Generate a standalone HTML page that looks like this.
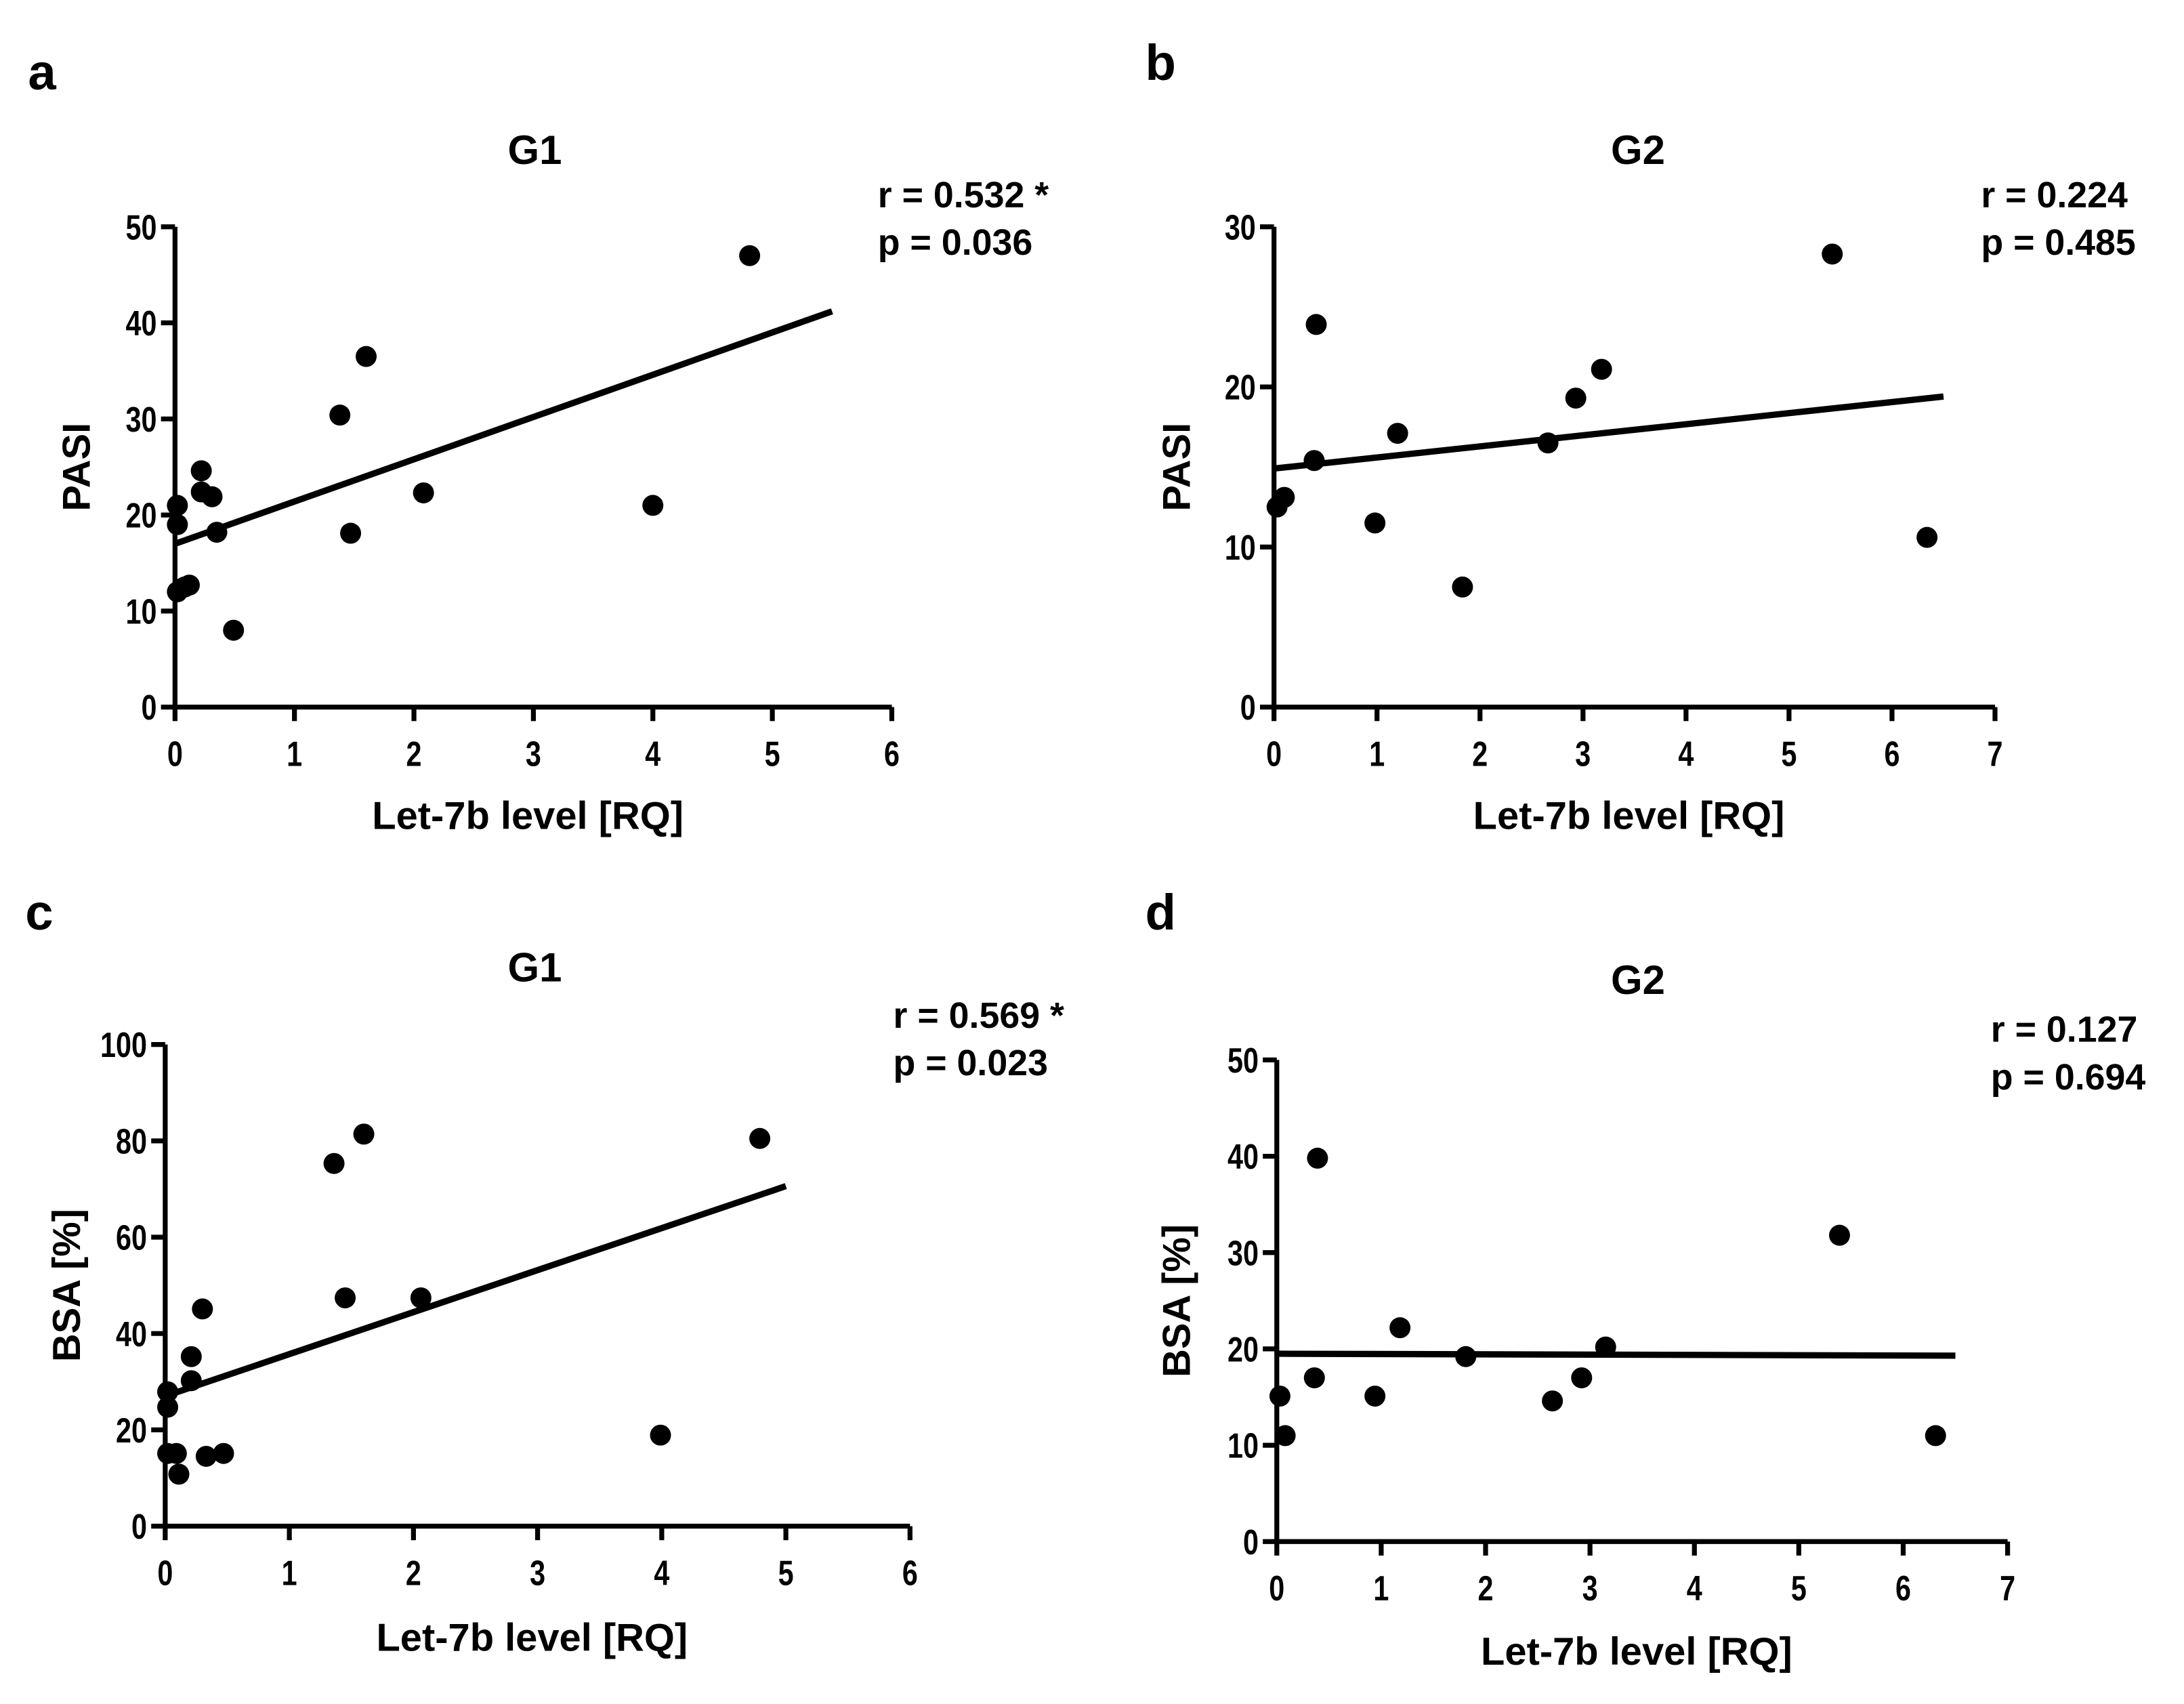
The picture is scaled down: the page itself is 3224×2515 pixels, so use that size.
<!DOCTYPE html>
<html><head><meta charset="utf-8"><style>
html,body{margin:0;padding:0;background:#fff}
svg{display:block}
text{font-family:"Liberation Sans",Arial,sans-serif;font-weight:bold;fill:#000}
.tick{font-size:25px}
</style></head><body>
<svg id="fig" width="3224" height="2515" viewBox="0 0 1560 1217" preserveAspectRatio="none" xmlns="http://www.w3.org/2000/svg"></svg>
<script>
// Panel a: G1 PASI
const aX = [0.02,0.02,0.02,0.08,0.12,0.22,0.22,0.31,0.35,0.49,1.38,1.60,1.47,2.08,4.00,4.81];
const aY = [21.0,19.0,12.0,12.5,12.7,24.6,22.4,21.9,18.2,8.0,30.4,36.5,18.1,22.3,21.0,47.0];
const aLine = [[0,17.0],[5.5,41.2]];
// Panel b: G2 PASI
const bX = [0.03,0.10,0.39,0.41,0.98,1.20,1.83,2.66,2.93,3.18,5.42,6.34];
const bY = [12.5,13.1,15.4,23.9,11.5,17.1,7.5,16.5,19.3,21.1,28.3,10.6];
const bLine = [[0,14.9],[6.5,19.4]];
// Panel c: G1 BSA
const cX = [0.02,0.02,0.02,0.09,0.11,0.21,0.21,0.30,0.33,0.47,1.36,1.60,1.45,2.06,3.99,4.79];
const cY = [27.9,24.7,15.1,15.1,10.8,35.2,30.2,45.1,14.5,15.1,75.3,81.4,47.4,47.4,18.9,80.5];
const cLine = [[0,27.0],[5.0,70.6]];
// Panel d: G2 BSA
const dX = [0.03,0.08,0.36,0.39,0.94,1.18,1.81,2.64,2.92,3.15,5.39,6.31];
const dY = [15.1,11.0,17.0,39.8,15.1,22.2,19.2,14.6,17.0,20.2,31.8,11.0];
const dLine = [[0,19.5],[6.5,19.3]];
const aXTicks=[0,1,2,3,4,5,6], aYTicks=[0,10,20,30,40,50];
const bXTicks=[0,1,2,3,4,5,6,7], bYTicks=[0,10,20,30];
const cXTicks=[0,1,2,3,4,5,6], cYTicks=[0,20,40,60,80,100];
const dXTicks=[0,1,2,3,4,5,6,7], dYTicks=[0,10,20,30,40,50];

const NS="http://www.w3.org/2000/svg";
const svg=document.getElementById('fig');
function mk(tag,attrs,parent,txt){const e=document.createElementNS(NS,tag);for(const k in attrs)e.setAttribute(k,attrs[k]);if(txt!==undefined)e.textContent=txt;(parent||svg).appendChild(e);return e;}

const panels=[
 {id:'a',xs:aX,ys:aY,line:aLine,xt:aXTicks,yt:aYTicks,x0:125,x1:637,y0:505,y1:162,title:'G1',tx:382,ty:117,letter:'a',lx:20,ly:64,ylab:'PASI',ylx:64,r:'r = 0.532 *',p:'p = 0.036',sx:627,sy:148,xlY:592},
 {id:'b',xs:bX,ys:bY,line:bLine,xt:bXTicks,yt:bYTicks,x0:910,x1:1425,y0:505,y1:162,title:'G2',tx:1170,ty:117,letter:'b',lx:818,ly:57,ylab:'PASI',ylx:850,r:'r = 0.224',p:'p = 0.485',sx:1415,sy:148,xlY:592},
 {id:'c',xs:cX,ys:cY,line:cLine,xt:cXTicks,yt:cYTicks,x0:118,x1:650,y0:1090,y1:746,title:'G1',tx:382,ty:701,letter:'c',lx:18,ly:664,ylab:'BSA [%]',ylx:57,r:'r = 0.569 *',p:'p = 0.023',sx:638,sy:734,xlY:1179},
 {id:'d',xs:dX,ys:dY,line:dLine,xt:dXTicks,yt:dYTicks,x0:912,x1:1434,y0:1101,y1:757,title:'G2',tx:1170,ty:710,letter:'d',lx:818,ly:664,ylab:'BSA [%]',ylx:850,r:'r = 0.127',p:'p = 0.694',sx:1422,sy:744,xlY:1189}
];

panels.forEach(P=>{
 const g=mk('g',{});
 
 
 const xmax=P.xt[P.xt.length-1], ymax=P.yt[P.yt.length-1];
 const sx=v=>P.x0+(v/xmax)*(P.x1-P.x0);
 const sy=v=>P.y0-(v/ymax)*(P.y0-P.y1);
 const L=mk('text',{x:P.lx,y:P.ly,'font-size':36},g,P.letter);
 
 
 const T=mk('text',{x:P.tx,y:P.ty,'font-size':29,'text-anchor':'middle'},g,P.title);
 
 
 const s1=mk('text',{x:P.sx,y:P.sy,'font-size':26},g,P.r);
 
 
 const s2=mk('text',{x:P.sx,y:P.sy+34,'font-size':26},g,P.p);
 
 
 const ax=mk('path',{d:`M${P.x0},${P.y1} V${P.y0} H${P.x1}`,stroke:'#000','stroke-width':3.5,fill:'none'},g);
 
 
 P.yt.forEach(v=>{
  mk('line',{x1:P.x0-10,x2:P.x0,y1:sy(v),y2:sy(v),stroke:'#000','stroke-width':3.5},g);
  const X=P.x0-13, Y=sy(v)+9;
  const t=mk('text',{x:X,y:Y,'text-anchor':'end',class:'tick',transform:`translate(${X} 0) scale(0.8 1) translate(${-X} 0)`},g,String(v));
  
  
 });
 P.xt.forEach(v=>{
  mk('line',{x1:sx(v),x2:sx(v),y1:P.y0,y2:P.y0+10,stroke:'#000','stroke-width':3.5},g);
  const X=sx(v);
  const t=mk('text',{x:X,y:P.y0+42,'text-anchor':'middle',class:'tick',transform:`translate(${X} 0) scale(0.8 1) translate(${-X} 0)`},g,String(v));
  
  
 });
 const xl=mk('text',{x:(P.x0+P.x1)/2-4,y:P.xlY,'font-size':28,'text-anchor':'middle'},g,'Let-7b level [RQ]');
 
 
 const ym=(P.y0+P.y1)/2;
 const yl=mk('text',{x:P.ylx,y:ym,'font-size':28,'text-anchor':'middle',transform:`rotate(-90 ${P.ylx} ${ym})`},g,P.ylab);
 
 
 const rl=mk('line',{x1:sx(P.line[0][0]),y1:sy(P.line[0][1]),x2:sx(P.line[1][0]),y2:sy(P.line[1][1]),stroke:'#000','stroke-width':4.5},g);
 
 
 P.xs.forEach((x,i)=>{
  const c=mk('circle',{cx:sx(x),cy:sy(P.ys[i]),r:7.5,fill:'#000'},g);
  
  
 });
});
</script>
</body></html>
